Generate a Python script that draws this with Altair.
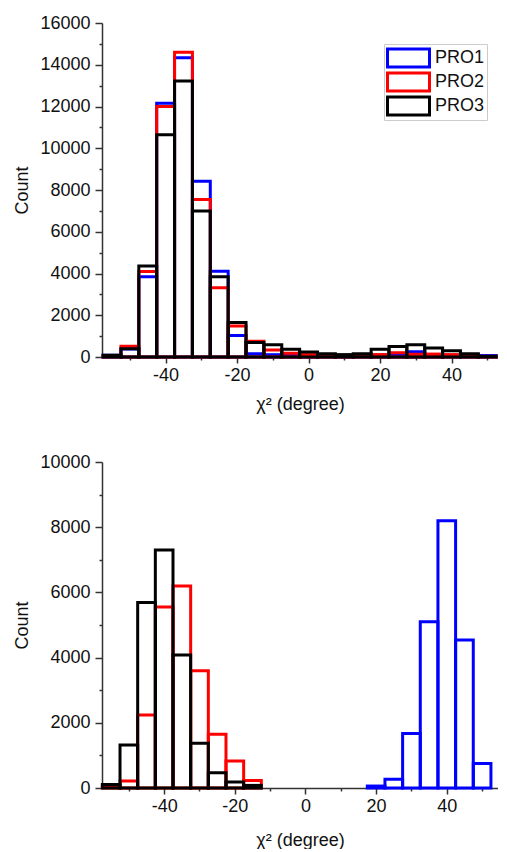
import altair as alt
import pandas as pd

# Bin centres (degrees); every bin spans +/- half a bin width
centers = [-55, -50, -45, -40, -35, -30, -25, -20, -15, -10, -5, 0,
           5, 10, 15, 20, 25, 30, 35, 40, 45, 50]
bin_half = 2.5
series = ["PRO1", "PRO2", "PRO3"]
colors = ["#0000FF", "#FF0000", "#000000"]

# Top panel counts
top_pro1 = [80, 380, 3850, 12150, 14340, 8420, 4110, 1030, 160, 110, 80, 60,
            50, 40, 60, 90, 110, 250, 80, 80, 110, 70]
top_pro2 = [60, 510, 4100, 12000, 14600, 7540, 3320, 1480, 760, 340, 180, 115,
            80, 60, 90, 115, 200, 130, 140, 115, 60, 30]
top_pro3 = [80, 400, 4360, 10650, 13220, 7000, 3850, 1650, 700, 590, 370, 240,
            160, 115, 160, 370, 500, 590, 430, 300, 150, 30]

# Bottom panel counts
bot_pro1 = [0, 0, 0, 0, 0, 0, 0, 0, 0, 0, 0, 0,
            0, 0, 0, 60, 270, 1670, 5100, 8200, 4540, 750]
bot_pro2 = [60, 215, 2240, 5550, 6200, 3600, 1650, 830, 230, 0, 0, 0,
            0, 0, 0, 0, 0, 0, 0, 0, 0, 0]
bot_pro3 = [110, 1320, 5690, 7300, 4080, 1370, 470, 185, 80, 0, 0, 0,
            0, 0, 0, 0, 0, 0, 0, 0, 0, 0]

FONT = "Liberation Sans"


def frame(vals_list):
    rows = []
    for si, (name, vals) in enumerate(zip(series, vals_list)):
        for c, v in zip(centers, vals):
            if v > 0:
                rows.append({"series": name, "ord": si,
                             "start": c - bin_half, "end": c + bin_half,
                             "count": v})
    return pd.DataFrame(rows)


def xaxis(title_pad):
    return alt.Axis(
        values=list(range(-50, 51, 10)),
        labelExpr="datum.value % 20 === 0 ? '' + datum.value : ''",
        tickSize={"condition": {"test": "datum.value % 20 === 0", "value": 6}, "value": 3},
        labelPadding=3,
        titlePadding=title_pad,
        labelOverlap=False,
    )


def yaxis(ymax):
    return alt.Axis(
        values=list(range(0, ymax + 1, 1000)),
        labelExpr="datum.value % 2000 === 0 ? '' + datum.value : ''",
        tickSize={"condition": {"test": "datum.value % 2000 === 0", "value": 7}, "value": 3},
        labelPadding=5,
        titlePadding=8,
        labelOverlap=False,
    )


def panel(df, xdom, ymax, h, legend, title_pad):
    return alt.Chart(df).mark_bar(filled=False, strokeWidth=3, strokeJoin="miter").encode(
        x=alt.X("start:Q", scale=alt.Scale(domain=xdom, nice=False, zero=False),
                axis=xaxis(title_pad), title="χ² (degree)"),
        x2="end:Q",
        y=alt.Y("count:Q", stack=None,
                scale=alt.Scale(domain=[0, ymax], nice=False, zero=True),
                axis=yaxis(ymax), title="Count"),
        y2=alt.datum(0),
        color=alt.Color("series:N", scale=alt.Scale(domain=series, range=colors),
                        legend=legend),
        order=alt.Order("ord:Q"),
    ).properties(width=396, height=h)


legend = alt.Legend(
    title=None,
    orient="none",
    legendX=282,
    legendY=21,
    symbolType="M-1,-0.43H1V0.43H-1Z",
    symbolSize=1764,
    symbolStrokeWidth=3,
    symbolFillColor="white",
    labelFont=FONT,
    labelFontSize=18,
    labelColor="#111111",
    labelOffset=4,
    strokeColor="#cccccc",
    fillColor="white",
    padding=2,
    rowPadding=0,
    clipHeight=24,
)

top = panel(frame([top_pro1, top_pro2, top_pro3]), [-57.8, 53], 16000, 334, legend, 11)
bottom = panel(frame([bot_pro1, bot_pro2, bot_pro3]), [-57.6, 54.5], 10000, 326, None, 16)

chart = alt.vconcat(top, bottom, spacing=40).resolve_scale(
    color="independent", x="independent", y="independent"
).resolve_legend(color="independent").properties(
    padding={"left": 5, "top": 6, "right": 0, "bottom": 0}
).configure_view(stroke=None).configure_axis(
    grid=False,
    domainColor="#333333",
    domainWidth=1.5,
    tickColor="#333333",
    tickWidth=1.5,
    labelFont=FONT,
    labelFontSize=18,
    labelColor="#111111",
    titleFont=FONT,
    titleFontSize=18,
    titleFontWeight="normal",
    titleColor="#111111",
)

chart.save("out.html", embed_options={"renderer": "svg", "actions": False})
